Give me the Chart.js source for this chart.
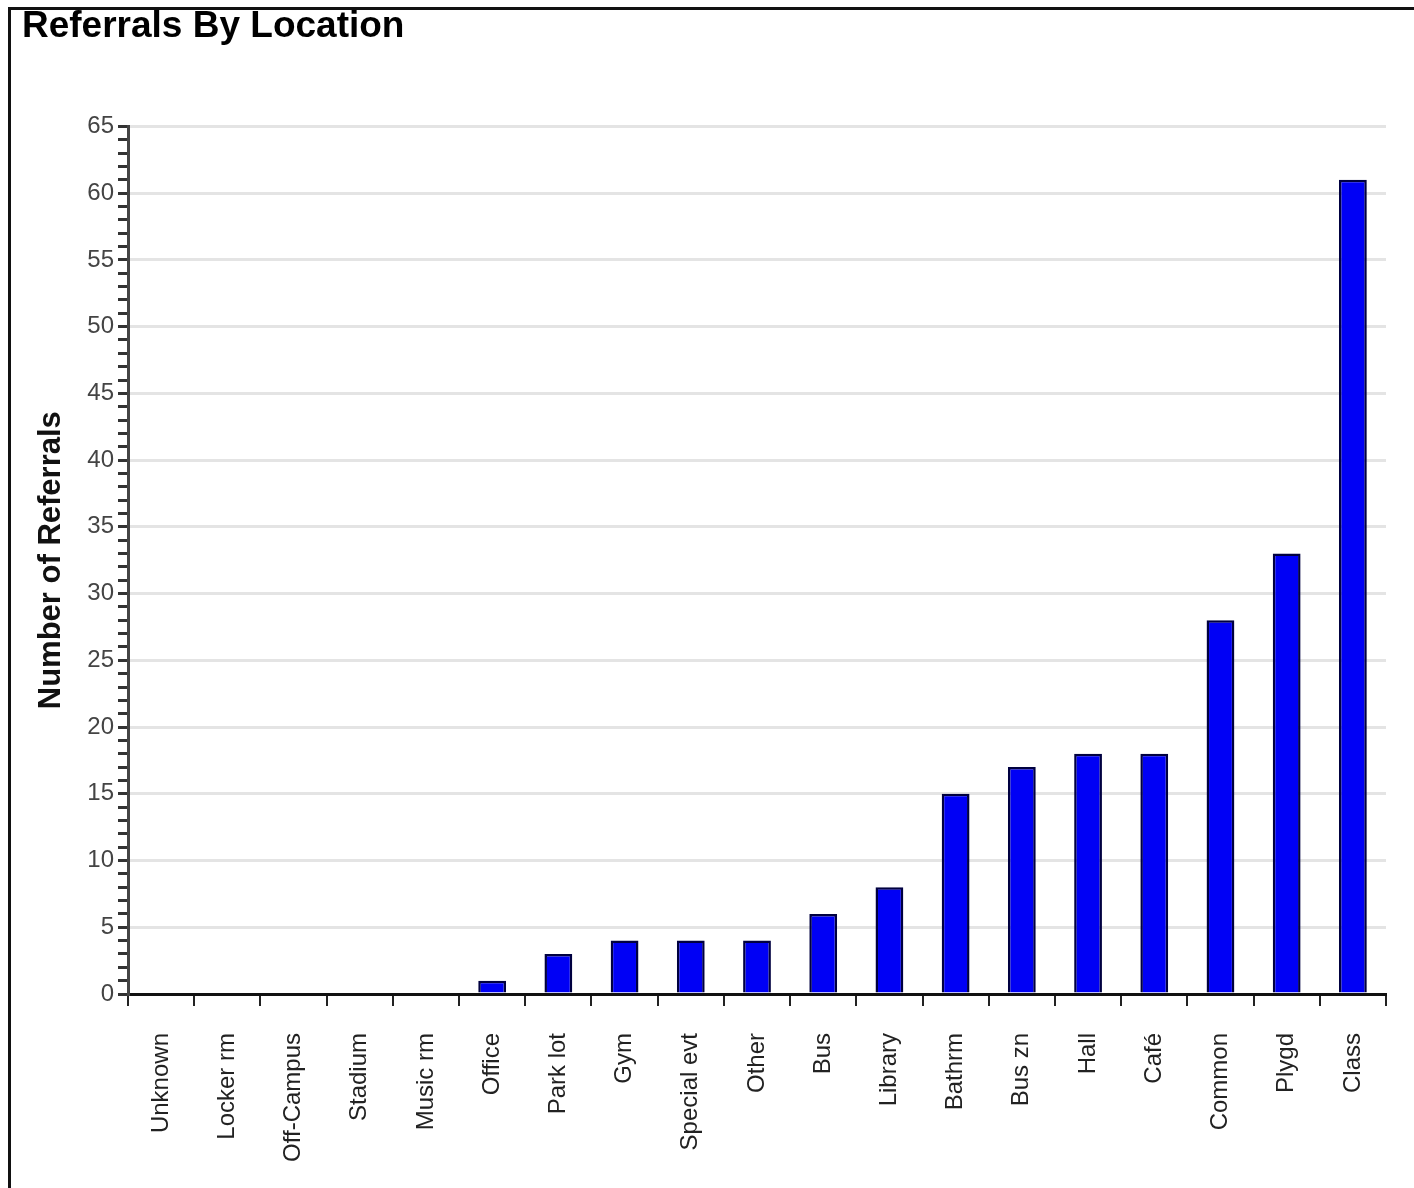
<!DOCTYPE html>
<html>
<head>
<meta charset="utf-8">
<title>Referrals By Location</title>
<script src="https://cdn.jsdelivr.net/npm/chart.js@4.4.1/dist/chart.umd.min.js"></script>
<style>
  html, body { margin: 0; padding: 0; background: #fff; }
  #wrap { position: relative; width: 1414px; height: 1188px; }
  #frame {
    position: absolute; left: 8px; top: 7px; right: 0; bottom: 0;
    border-left: 3px solid #111; border-top: 3px solid #111;
    pointer-events: none;
  }
</style>
</head>
<body>
<div id="wrap">
  <canvas id="chart" width="1414" height="1188"></canvas>
  <div id="frame"></div>
</div>
<script>
// locations and referral counts
const locations = ['Unknown', 'Locker rm', 'Off-Campus', 'Stadium', 'Music rm', 'Office', 'Park lot', 'Gym',
  'Special evt', 'Other', 'Bus', 'Library', 'Bathrm', 'Bus zn', 'Hall', 'Café', 'Common', 'Plygd', 'Class'];
const referrals = [0, 0, 0, 0, 0, 1, 3, 4, 4, 4, 6, 8, 15, 17, 18, 18, 28, 33, 61];
const yMax = 65;
const yLabelStep = 5;

const font = "'Liberation Sans', Arial, sans-serif";

const ctx = document.getElementById('chart').getContext('2d');
new Chart(ctx, {
  type: 'bar',
  data: {
    labels: locations,
    datasets: [{
      label: 'Referrals',
      data: referrals,
      backgroundColor: '#0000f5',
      borderColor: '#000040',
      borderWidth: 2.5,
      barPercentage: 0.42,
      categoryPercentage: 1
    }]
  },
  options: {
    responsive: false,
    animation: false,
    layout: { padding: { left: 22, right: 28, top: 0, bottom: 0 } },
    plugins: {
      legend: { display: false },
      tooltip: { enabled: false },
      title: {
        display: true,
        text: 'Referrals By Location',
        align: 'start',
        color: '#000',
        font: { family: font, size: 37, weight: 'bold', lineHeight: 1.2 },
        padding: { top: 5, bottom: 77 }
      }
    },
    scales: {
      x: {
        offset: true,
        border: { display: true, color: '#111', width: 3 },
        grid: { offset: true, drawOnChartArea: false, drawTicks: true, tickLength: 12, color: '#222', lineWidth: 2 },
        ticks: {
          autoSkip: false,
          minRotation: 90,
          maxRotation: 90,
          padding: 27,
          color: '#222',
          font: { family: font, size: 24 }
        },
        afterFit: (scale) => { scale.height = 194; }
      },
      y: {
        min: 0,
        max: yMax,
        border: { display: true, color: '#444', width: 3 },
        grid: {
          color: (c) => (c.tick && c.tick.value % yLabelStep === 0 && c.tick.value !== 0) ? '#e4e4e4' : 'rgba(0,0,0,0)',
          lineWidth: 3,
          tickColor: '#333',
          tickLength: 10,
          drawTicks: true
        },
        ticks: {
          stepSize: 1,
          autoSkip: false,
          padding: 4,
          color: '#444',
          font: { family: font, size: 24 },
          callback: (v) => (v % yLabelStep === 0 ? v : '')
        },
        title: {
          display: true,
          text: 'Number of Referrals',
          color: '#111',
          font: { family: font, size: 31, weight: 'bold', lineHeight: 1.2 },
          padding: { top: 11, bottom: 0 }
        },
        afterFit: (scale) => { scale.width = 106; }
      }
    }
  }
});
</script>
</body>
</html>
